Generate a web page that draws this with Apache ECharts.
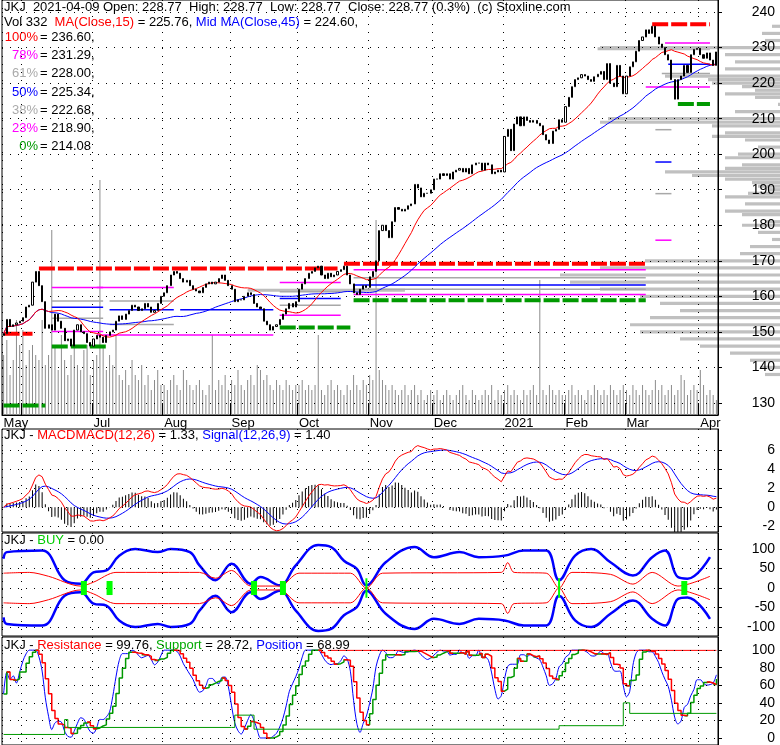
<!DOCTYPE html>
<html>
<head>
<meta charset="utf-8">
<script src="https://cdn.jsdelivr.net/npm/echarts@6/dist/echarts.min.js"></script>
<style>
  html, body { margin: 0; padding: 0; background: #fff; }
  #chart { width: 780px; height: 745px; }
</style>
</head>
<body>
<div id="chart"></div>
<script>
// closes by month
var closeMay = [149.5, 153.5, 151.5, 152, 152.5, 153];
var closeJun = [154, 157, 157.5, 164, 167, 163, 158.5, 151, 152, 150.5, 155, 153, 151, 147.5, 148, 146, 150.5, 152, 150, 149.5, 147, 146];
var closeJul = [148, 149, 148.5, 147, 149, 150, 150.5, 153, 154.5, 153.5, 155, 156, 157.5, 157, 156, 156.5, 158, 157, 155.5, 156, 158, 160];
var closeAug = [161, 163, 166, 167, 166.5, 165, 164, 164.5, 163, 162, 161.5, 161, 162.5, 163.5, 164, 163.5, 164, 165, 166, 164.5, 163];
var closeSep = [162, 158.5, 159, 159, 160, 161, 160.5, 158, 157, 156.5, 153, 152, 150.5, 151.5, 152, 153.5, 155, 156.5, 158, 157, 158.5];
var closeOct = [162, 163.5, 165, 166.5, 167, 168, 168.5, 166, 165, 166.5, 165.5, 166, 167, 167.5, 168.5, 166, 163.5, 161, 160.5, 162, 163, 162.5];
var closeNov = [165.5, 167, 170, 178.5, 180, 178.5, 176.5, 181, 185, 184.5, 184, 184.5, 185.5, 186, 191.5, 190.5, 188, 189, 189, 190];
var closeDec = [193, 193, 194.5, 194, 194.5, 193, 195, 195.5, 196, 195, 196, 194.5, 197, 197.5, 197.5, 195.5, 197.5, 197, 194.5, 195, 195.5, 195];
var closeJan = [205, 207, 201, 208.5, 210.5, 208, 210.5, 209.5, 209, 209.5, 208.7, 208, 205.5, 204, 203, 206.5, 207, 209.7, 209];
var closeFeb = [213.4, 216, 219, 221, 221.5, 222.4, 222, 221, 220.5, 221.8, 222.5, 223.3, 221, 225.5, 220, 219, 225, 222, 217];
var closeMar = [222, 224.6, 226, 229, 232, 233, 235, 234, 236, 233, 231, 230, 228, 226.5, 221, 215.5, 221, 222, 225, 223, 228, 229.5, 229.8];
var closeApr = [228, 227, 228.5, 226.5, 225, 228.77];

// volume (relative units)
var volMay = [60, 75, 40, 55, 95, 70];
var volJun = [85, 50, 65, 70, 60, 55, 95, 50, 60, 185, 70, 45, 80, 55, 40, 60, 75, 50, 45, 65, 70, 40];
var volJul = [55, 60, 235, 70, 45, 60, 50, 80, 40, 35, 45, 30, 55, 40, 35, 50, 30, 40, 25, 35, 45, 30];
var volAug = [30, 25, 35, 40, 30, 25, 45, 35, 30, 25, 30, 35, 25, 20, 30, 80, 25, 35, 30, 40, 25];
var volSep = [35, 30, 45, 30, 25, 35, 40, 30, 50, 45, 35, 40, 30, 25, 35, 30, 25, 35, 30, 25, 30];
var volOct = [30, 35, 25, 30, 25, 30, 80, 25, 20, 30, 35, 25, 30, 25, 20, 30, 25, 40, 30, 25, 35, 30];
var volNov = [40, 35, 195, 45, 35, 30, 25, 30, 25, 20, 25, 30, 20, 25, 30, 20, 25, 15, 20, 25];
var volDec = [20, 25, 15, 20, 25, 20, 15, 20, 25, 30, 20, 15, 25, 20, 15, 20, 25, 20, 30, 15, 25, 20];
var volJan = [25, 30, 20, 25, 20, 15, 25, 20, 25, 30, 20, 135, 25, 20, 30, 25, 20, 25, 20];
var volFeb = [20, 25, 30, 20, 25, 20, 15, 25, 20, 30, 25, 20, 25, 20, 30, 25, 20, 25, 30];
var volMar = [25, 20, 30, 25, 20, 30, 25, 20, 25, 35, 25, 30, 20, 25, 30, 20, 25, 40, 35, 20, 25, 30, 25];
var volApr = [45, 30, 20, 25, 20, 15];

var holidays = ['2020-05-25', '2020-07-03', '2020-09-07', '2020-11-26', '2020-12-25', '2021-01-01', '2021-01-18', '2021-02-15', '2021-04-02'];
var monthNames = ['Jan', 'Feb', 'Mar', 'Apr', 'May', 'Jun', 'Jul', 'Aug', 'Sep', 'Oct', 'Nov', 'Dec'];

// volume at price profile: [price, width]
var profile = [[138, 15], [140, 20], [142, 30], [144, 50], [146, 80], [148, 100], [150, 140], [152, 150], [154, 130], [156, 100], [158, 120], [160, 140], [162, 180], [164, 210], [166, 220], [168, 180], [170, 135], [172, 40], [174, 30], [176, 8], [178, 22], [180, 38], [181, 15], [183, 38], [184, 55], [186, 35], [188, 55], [189, 32], [190, 12], [191, 22], [192, 28], [193, 55], [194, 88], [195, 115], [196, 55], [197, 38], [199, 55], [200, 42], [202, 22], [204, 35], [205, 68], [206, 55], [208, 68], [209, 180], [210, 172], [212, 45], [214, 2], [216, 25], [217, 55], [218, 25], [219, 38], [220, 68], [221, 72], [222, 115], [224, 55], [226, 45], [228, 55], [230, 180], [232, 15], [234, 18], [236, 8]];

// level segments: [fromDay, toDay, price]
var redLevels = [[0, 9, 149.5], [11, 104, 167.8], [106, 200, 169.2], [202, 220, 236.6]];
var greenLevels = [[0, 13, 129.3], [15, 32, 145.9], [86, 108, 151.2], [109, 200, 158.9], [210, 220, 214.1]];
var magentaLevels = [[15, 31, 162.5], [15, 31, 150.1], [29, 53, 162.5], [29, 84, 149.1], [86, 105, 163.9], [86, 105, 154.7], [109, 200, 167.5], [109, 200, 160.5], [206, 220, 231.3], [200, 220, 218.9], [203, 208, 175.8]];
var blueLevels = [[15, 31, 156.9], [33, 53, 156.2], [55, 84, 156.2], [86, 105, 159.4], [109, 200, 163.2], [207, 220, 225.3], [203, 208, 197.8]];
var greyLevels = [[15, 31, 153.8], [15, 31, 158.7], [33, 53, 158.7], [33, 53, 152.1], [86, 105, 161.3], [86, 105, 157.5], [109, 200, 165.2], [109, 200, 162.0], [205, 220, 222.7], [203, 208, 206.9], [203, 208, 188.9]];
var greyBands = [[76, 125, 161.7], [185, 220, 229.7]];

// BUY panel
var buyBand = [[0, 75], [1, 92], [12, 96], [19, 20], [24, 11], [28, 40], [32, 45], [36, 83], [41, 100], [48, 92], [52, 100], [58, 92], [61, 58], [66, 20], [71, 62], [77, 11], [80, 28], [86, 7], [91, 58], [98, 110], [102, 105], [106, 70], [110, 49], [113, 7], [119, 66], [128, 105], [134, 79], [142, 92], [148, 79], [156, 83], [162, 96], [169, 96], [173, 20], [178, 83], [183, 100], [189, 66], [196, 32], [202, 79], [206, 96], [210, 28], [213, 24], [220, 79]];
var buyInner = [[0, 38], [8, 40], [14, 30], [24, 5], [28, 15], [35, 40], [61, 40], [66, 25], [71, 45], [77, 5], [86, 5], [92, 38], [108, 38], [113, 0], [118, 38], [155, 40], [157, 65], [159, 40], [169, 38], [173, 0], [177, 40], [189, 35], [196, 10], [202, 40], [210, 5], [220, 30]];
var buySignals = [[25, 18, 6], [33, 18, 6], [78, 18, 6], [87, 18, 6], [212, 18, 6], [113, 25, 2], [173, 25, 2]];

// support / resistance
var support = [[0, 4], [17, 4], [19, 21], [20, 12], [71, 12], [72, 26], [77, 26], [78, 10], [172, 10], [173, 14], [192, 14], [193, 40], [195, 28], [222, 28.72]];
var resistance = [[101, 99.76], [222, 99.76]];

var priceTicks = [130, 140, 150, 160, 170, 180, 190, 200, 210, 220, 230, 240];
var macdTicks = [-2, 0, 2, 4, 6];
var buyTicks = [-100, -50, 0, 50, 100];
var posTicks = [0, 20, 40, 60, 80, 100];

var closes = [].concat(closeMay, closeJun, closeJul, closeAug, closeSep, closeOct, closeNov, closeDec, closeJan, closeFeb, closeMar, closeApr);
var volumes = [].concat(volMay, volJun, volJul, volAug, volSep, volOct, volNov, volDec, volJan, volFeb, volMar, volApr);

// trading days
var dates = [];
var d = new Date(Date.UTC(2020, 4, 21));
var end = new Date(Date.UTC(2021, 3, 9));
while (d <= end) {
    var s = d.toISOString().slice(0, 10);
    var wd = d.getUTCDay();
    if (wd !== 0 && wd !== 6 && holidays.indexOf(s) < 0) dates.push(s);
    d.setUTCDate(d.getUTCDate() + 1);
}
var n = Math.min(dates.length, closes.length);
dates = dates.slice(0, n);

var monthStart = {};
dates.forEach(function (s, i) {
    if (i === 0 || s.slice(5, 7) !== dates[i - 1].slice(5, 7)) monthStart[i] = true;
});
function monthLabel(s, i) {
    var m = +s.slice(5, 7);
    if (m === 1) return s.slice(0, 4);
    if (m === 6) return '';
    return monthNames[m - 1];
}

var candles = [];
for (var i = 0; i < n; i++) {
    var o = i ? closes[i - 1] : 149;
    var c = closes[i];
    candles.push([o, c, Math.min(o, c), Math.max(o, c)]);
}

function sma(arr, p) {
    return arr.map(function (v, i) {
        var a = arr.slice(Math.max(0, i - p + 1), i + 1);
        return +(a.reduce(function (x, y) { return x + y; }, 0) / a.length).toFixed(2);
    });
}
function ema(arr, p) {
    var k = 2 / (p + 1), out = [], prev = arr[0];
    arr.forEach(function (v) { prev = v * k + prev * (1 - k); out.push(prev); });
    return out;
}
var ma15 = sma(closes, 15), ma45 = sma(closes, 45);
var e12 = ema(closes, 12), e26 = ema(closes, 26);
var macd = e12.map(function (v, i) { return v - e26[i]; });
var signal = ema(macd, 9);
var hist = macd.map(function (v, i) { return +(1.5 * (v - signal[i])).toFixed(3); });
macd = macd.map(function (v) { return +v.toFixed(3); });
signal = signal.map(function (v) { return +v.toFixed(3); });

var rawPos = closes.map(function (c, i) {
    var w = closes.slice(Math.max(0, i - 17), i + 1);
    var lo = Math.min.apply(null, w), hi = Math.max.apply(null, w);
    return hi === lo ? 50 : (c - lo) / (hi - lo) * 100;
});
var position = sma(rawPos, 3);
var posSmooth = sma(rawPos, 5);
var posUp = posSmooth.map(function (v, i) { return i && v >= posSmooth[i - 1] ? v : null; });
var posDown = posSmooth.map(function (v, i) { return i && v < posSmooth[i - 1] ? v : null; });
posUp = posUp.map(function (v, i) { return v === null && posUp[i + 1] !== null && posUp[i + 1] !== undefined ? posSmooth[i] : v; });
posDown = posDown.map(function (v, i) { return v === null && posDown[i + 1] !== null && posDown[i + 1] !== undefined ? posSmooth[i] : v; });

var FONT = 'Liberation Sans, Arial, sans-serif';
var dots = { type: [1, 7], color: '#000', width: 1 };

function gridLines(ticks) {
    return {
        symbol: 'none', silent: true, label: { show: false },
        lineStyle: dots, emphasis: { disabled: true },
        data: ticks.map(function (v) { return { yAxis: v }; })
    };
}
function xAxisFor(gi, showLabels) {
    return {
        type: 'category', gridIndex: gi, data: dates, boundaryGap: true,
        axisLine: { show: showLabels, lineStyle: { color: '#000' } },
        axisTick: { show: showLabels, interval: function (i) { return !!monthStart[i]; }, length: -12, lineStyle: { color: '#000' } },
        axisLabel: {
            show: showLabels, interval: function (i) { return !!monthStart[i]; },
            formatter: monthLabel, color: '#000', fontFamily: FONT, fontSize: 13, margin: 2, align: 'left'
        },
        splitLine: { show: true, interval: function (i) { return !!monthStart[i]; }, lineStyle: dots }
    };
}
function yAxisFor(gi, min, max, ticks) {
    return {
        type: 'value', gridIndex: gi, position: 'right', min: min, max: max, z: 10,
        axisLine: { show: true, lineStyle: { color: '#000' } },
        axisTick: { show: true, customValues: ticks, length: 4, inside: false, lineStyle: { color: '#000' } },
        axisLabel: { customValues: ticks, color: '#000', fontFamily: FONT, fontSize: 14, align: 'right', margin: 57 },
        splitLine: { show: false }
    };
}
function segSeries(levels, color, width, dash, z) {
    return {
        type: 'custom', xAxisIndex: 0, yAxisIndex: 0, z: z || 3, silent: true,
        data: levels,
        renderItem: function (params, api) {
            var a = api.coord([api.value(0), api.value(2)]);
            var b = api.coord([api.value(1), api.value(2)]);
            return { type: 'line', shape: { x1: a[0], y1: a[1], x2: b[0], y2: b[1] },
                     style: { stroke: color, lineWidth: width, lineDash: dash } };
        }
    };
}

var grids = [
    { left: 2, right: 62, top: 0, height: 415, show: true, borderColor: '#000', borderWidth: 1 },
    { left: 2, right: 62, top: 429, height: 103, show: true, borderColor: '#000', borderWidth: 1 },
    { left: 2, right: 62, top: 533, height: 103, show: true, borderColor: '#000', borderWidth: 1 },
    { left: 2, right: 62, top: 637, height: 108, show: true, borderColor: '#000', borderWidth: 1 },
    { left: 0, right: 0, top: 0, height: 415 }
];

var option = {
    animation: false,
    backgroundColor: '#fff',
    grid: grids,
    xAxis: [
        xAxisFor(0, true), xAxisFor(1, false), xAxisFor(2, false), xAxisFor(3, false),
        { type: 'value', gridIndex: 4, min: 0, max: 780, inverse: true, show: false }
    ],
    yAxis: [
        yAxisFor(0, 126.6, 243.4, priceTicks),
        { type: 'value', gridIndex: 0, min: 0, max: 415, show: false },
        yAxisFor(1, -2.6, 8.2, macdTicks),
        yAxisFor(2, -123, 141, buyTicks),
        yAxisFor(3, -8, 115, posTicks),
        { type: 'value', gridIndex: 4, min: 126.6, max: 243.4, show: false }
    ],
    graphic: [
        { type: 'text', left: 4, top: 1, style: { fontFamily: FONT, fontSize: 13, fill: '#000',
            text: 'JKJ  2021-04-09 Open: 228.77  High: 228.77  Low: 228.77  Close: 228.77 (0.3%)  (c) Stoxline.com' } },
        { type: 'text', left: 4, top: 16, style: { fontFamily: FONT, fontSize: 13, fill: '#000',
            text: '{k|Vol 332  }{r|MA(Close,15)}{k| = 225.76, }{b|Mid MA(Close,45)}{k| = 224.60,}',
            rich: { k: { fill: '#000', fontFamily: FONT, fontSize: 13 }, r: { fill: '#f00', fontFamily: FONT, fontSize: 13 }, b: { fill: '#00f', fontFamily: FONT, fontSize: 13 } } } },
        { type: 'text', left: 4, top: 429, style: { fontFamily: FONT, fontSize: 13,
            text: '{k|JKJ - }{r|MACDMACD(12,26)}{k| = 1.33, }{b|Signal(12,26,9)}{k| = 1.40}',
            rich: { k: { fill: '#000', fontFamily: FONT, fontSize: 13 }, r: { fill: '#f00', fontFamily: FONT, fontSize: 13 }, b: { fill: '#00f', fontFamily: FONT, fontSize: 13 } } } },
        { type: 'text', left: 4, top: 534, style: { fontFamily: FONT, fontSize: 13,
            text: '{k|JKJ - }{g|BUY}{k| = 0.00}',
            rich: { k: { fill: '#000', fontFamily: FONT, fontSize: 13 }, g: { fill: '#0c0', fontFamily: FONT, fontSize: 13 } } } },
        { type: 'text', left: 4, top: 639, style: { fontFamily: FONT, fontSize: 13,
            text: '{k|JKJ - }{r|Resistance}{k| = 99.76, }{g|Support}{k| = 28.72, }{b|Position}{k| = 68.99}',
            rich: { k: { fill: '#000', fontFamily: FONT, fontSize: 13 }, r: { fill: '#f00', fontFamily: FONT, fontSize: 13 }, g: { fill: '#0a0', fontFamily: FONT, fontSize: 13 }, b: { fill: '#00f', fontFamily: FONT, fontSize: 13 } } } }
    ].concat([
        ['100%', '236.60', '#f00'], ['78%', '231.29', '#f0f'], ['61%', '228.00', '#aaa'], ['50%', '225.34', '#00f'],
        ['38%', '222.68', '#aaa'], ['23%', '218.90', '#f0f'], ['0%', '214.08', '#090']
    ].reduce(function (acc, f, k) {
        acc.push({ type: 'text', x: 38, y: 31 + k * 18.2, style: { text: f[0], fill: f[2], fontFamily: FONT, fontSize: 13, align: 'right' } });
        acc.push({ type: 'text', x: 40, y: 31 + k * 18.2, style: { text: '= ' + f[1] + (k < 6 ? ',' : ''), fill: '#000', fontFamily: FONT, fontSize: 13 } });
        return acc;
    }, [])),
    series: [
        {
            type: 'custom', xAxisIndex: 4, yAxisIndex: 5, z: -1, silent: true, data: profile,
            renderItem: function (params, api) {
                var a = api.coord([api.value(1), api.value(0) + 0.45]);
                var b = api.coord([0, api.value(0) - 0.45]);
                return { type: 'rect', shape: { x: a[0], y: a[1], width: b[0] - a[0], height: b[1] - a[1] }, style: { fill: '#c0c0c0' } };
            }
        },
        { type: 'bar', xAxisIndex: 0, yAxisIndex: 1, data: volumes, barWidth: 1, itemStyle: { color: '#8c8c8c' }, z: 2, silent: true },
        segSeries(greyBands, '#bdbdbd', 3, null, 3),
        segSeries(greyLevels, '#a8a8a8', 1.5, null, 3),
        segSeries(magentaLevels, '#f0f', 1.5, null, 3),
        segSeries(blueLevels, '#00f', 1.5, null, 3),
        segSeries(redLevels, '#f00', 4, [16, 3], 4),
        segSeries(greenLevels, '#090', 4, [16, 3], 4),
        { type: 'line', xAxisIndex: 0, yAxisIndex: 0, data: ma45, showSymbol: false, lineStyle: { color: '#00f', width: 1 }, z: 5, silent: true },
        { type: 'line', xAxisIndex: 0, yAxisIndex: 0, data: ma15, showSymbol: false, lineStyle: { color: '#f00', width: 1 }, z: 5, silent: true },
        { type: 'candlestick', xAxisIndex: 0, yAxisIndex: 0, data: candles, barMaxWidth: 4, z: 6,
          itemStyle: { color: '#fff', color0: '#000', borderColor: '#000', borderColor0: '#000', borderWidth: 1 },
          markLine: gridLines(priceTicks) },
        // MACD
        { type: 'bar', xAxisIndex: 1, yAxisIndex: 2, data: hist, barWidth: 1, itemStyle: { color: '#000' }, silent: true,
          markLine: gridLines(macdTicks) },
        { type: 'line', xAxisIndex: 1, yAxisIndex: 2, data: signal, showSymbol: false, lineStyle: { color: '#00f', width: 1 }, silent: true },
        { type: 'line', xAxisIndex: 1, yAxisIndex: 2, data: macd, showSymbol: false, lineStyle: { color: '#f00', width: 1 }, silent: true },
        // BUY
        { type: 'line', xAxisIndex: 2, yAxisIndex: 3, data: buyBand, smooth: 0.4, showSymbol: false, lineStyle: { color: '#00f', width: 2.5 }, silent: true,
          markLine: gridLines(buyTicks) },
        { type: 'line', xAxisIndex: 2, yAxisIndex: 3, data: buyBand.map(function (p) { return [p[0], -p[1]]; }), smooth: 0.4, showSymbol: false, lineStyle: { color: '#00f', width: 2.5 }, silent: true },
        { type: 'line', xAxisIndex: 2, yAxisIndex: 3, data: buyInner, smooth: 0.3, showSymbol: false, lineStyle: { color: '#f00', width: 1 }, silent: true },
        { type: 'line', xAxisIndex: 2, yAxisIndex: 3, data: buyInner.map(function (p) { return [p[0], -p[1]]; }), smooth: 0.3, showSymbol: false, lineStyle: { color: '#f00', width: 1 }, silent: true },
        { type: 'custom', xAxisIndex: 2, yAxisIndex: 3, data: buySignals, z: 5, silent: true,
          renderItem: function (params, api) {
              var a = api.coord([api.value(0), api.value(1)]);
              var b = api.coord([api.value(0), -api.value(1)]);
              var w = api.value(2);
              return { type: 'rect', shape: { x: a[0] - w / 2, y: a[1], width: w, height: b[1] - a[1] }, style: { fill: '#0f0' } };
          } },
        // Position
        { type: 'line', xAxisIndex: 3, yAxisIndex: 4, data: position, smooth: 0.3, showSymbol: false, lineStyle: { color: '#00f', width: 1 }, silent: true,
          markLine: gridLines(posTicks) },
        { type: 'line', xAxisIndex: 3, yAxisIndex: 4, data: posUp, step: 'end', showSymbol: false, lineStyle: { color: '#090', width: 1.5 }, silent: true },
        { type: 'line', xAxisIndex: 3, yAxisIndex: 4, data: posDown, step: 'end', showSymbol: false, lineStyle: { color: '#f00', width: 1.5 }, silent: true },
        { type: 'line', xAxisIndex: 3, yAxisIndex: 4, data: support, step: 'end', showSymbol: false, lineStyle: { color: '#090', width: 1 }, silent: true },
        { type: 'line', xAxisIndex: 3, yAxisIndex: 4, data: resistance, showSymbol: false, lineStyle: { color: '#f00', width: 1 }, silent: true }
    ]
};

var chart = echarts.init(document.getElementById('chart'));
chart.setOption(option);
</script>
</body>
</html>
